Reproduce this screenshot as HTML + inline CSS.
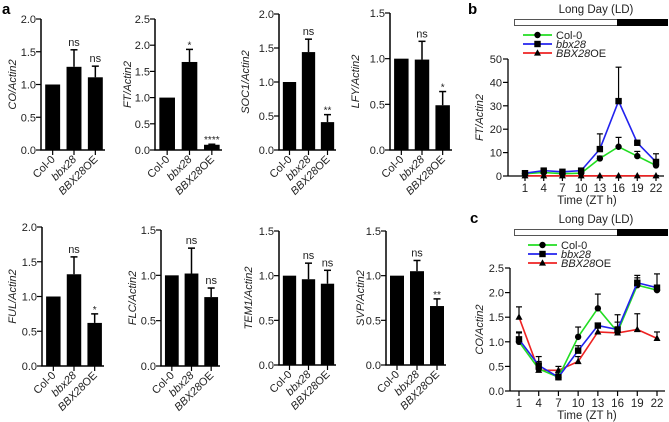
<!DOCTYPE html>
<html><head><meta charset="utf-8">
<style>
html,body{margin:0;padding:0;background:#fff;}
svg{display:block;font-family:"Liberation Sans",Arial,sans-serif;}
</style></head>
<body>
<svg id="fig" width="669" height="422" viewBox="0 0 669 422" xmlns="http://www.w3.org/2000/svg">
<text x="2" y="14" font-size="15" font-weight="bold">a</text>
<text x="468" y="14" font-size="15" font-weight="bold">b</text>
<text x="470" y="223" font-size="15" font-weight="bold">c</text>
</svg>
<script>
// ---- bar chart data ----
const barCategories = ["Col-0", "bbx28", "BBX28OE"];
const barGenes = ["CO", "FT", "SOC1", "LFY", "FUL", "FLC", "TEM1", "SVP"];
const coValues = [1, 1.27, 1.11];
const coErr = [0, 1.53, 1.28];
const ftValues = [1, 1.68, 0.1];
const ftErr = [0, 1.92, 0.11];
const soc1Values = [1, 1.44, 0.41];
const soc1Err = [0, 1.63, 0.52];
const lfyValues = [1, 0.99, 0.49];
const lfyErr = [0, 1.19, 0.64];
const fulValues = [1, 1.32, 0.62];
const fulErr = [0, 1.57, 0.75];
const flcValues = [1, 1.02, 0.76];
const flcErr = [0, 1.30, 0.86];
const tem1Values = [1, 0.96, 0.91];
const tem1Err = [0, 1.14, 1.06];
const svpValues = [1, 1.05, 0.66];
const svpErr = [0, 1.17, 0.74];
const coSig = ["", "ns", "ns"];
const ftSig = ["", "*", "****"];
const soc1Sig = ["", "ns", "**"];
const lfySig = ["", "ns", "*"];
const fulSig = ["", "ns", "*"];
const flcSig = ["", "ns", "ns"];
const tem1Sig = ["", "ns", "ns"];
const svpSig = ["", "ns", "**"];
const ticks20 = [0, 0.5, 1.0, 1.5, 2.0];
const ticks25 = [0, 0.5, 1.0, 1.5, 2.0, 2.5];
const ticks15 = [0, 0.5, 1.0, 1.5];

// ---- line chart data ----
const timePoints = [1, 4, 7, 10, 13, 16, 19, 22];
const seriesNames = ["Col-0", "bbx28", "BBX28OE"];
const ftCol = [1.0, 1.5, 1.0, 1.2, 7.5, 12.5, 8.5, 4.5];
const ftColErr = [1.2, 1.8, 1.3, 1.5, 8.5, 16.5, 10.5, 5.0];
const ftBbx = [1.2, 2.3, 1.8, 2.3, 11.5, 32, 14.2, 6];
const ftBbxErr = [1.5, 2.6, 2.1, 2.8, 18, 46.5, 14.6, 9.5];
const ftOE = [0.1, 0.1, 0.1, 0.1, 0.1, 0.1, 0.1, 0.1];
const ftOEErr = [0.2, 0.2, 0.2, 0.2, 0.2, 0.2, 0.2, 0.2];
const coCol = [1.0, 0.45, 0.28, 1.1, 1.68, 1.2, 2.15, 2.05];
const coColErr = [1.18, 0.6, 0.35, 1.3, 1.97, 1.4, 2.3, 2.15];
const coBbx = [1.05, 0.52, 0.28, 0.82, 1.33, 1.25, 2.2, 2.1];
const coBbxErr = [1.2, 0.7, 0.38, 0.92, 1.38, 1.55, 2.35, 2.38];
const coOE = [1.5, 0.42, 0.42, 0.6, 1.2, 1.18, 1.25, 1.07];
const coOEErr = [1.71, 0.55, 0.5, 0.7, 1.3, 1.3, 1.57, 1.2];
const ftLineTicks = [0, 10, 20, 30, 40, 50];
const coLineTicks = [0, 0.5, 1.0, 1.5, 2.0, 2.5];

const NS = "http://www.w3.org/2000/svg";
const svg = document.getElementById("fig");
function mk(tag, attrs, parent) {
  const e = document.createElementNS(NS, tag);
  for (const k in attrs) e.setAttribute(k, attrs[k]);
  (parent || svg).appendChild(e);
  return e;
}

function barChart(gene, values, errs, sigs, ticks, g) {
  const grp = mk("g", {});
  
  
  const maxV = ticks[ticks.length - 1];
  const y = v => g.base - (v / maxV) * (g.base - g.top);
  const band = (g.x1 - g.x0) / barCategories.length;
  const bw = band * 0.7;
  const xc = i => g.x0 + band * (i + 0.5) + 1;
  const ya = mk("line", {x1: g.x0, y1: g.top, x2: g.x0, y2: g.base + 0.5, stroke: "#000", "stroke-width": 1.5}, grp);
  
  
  const xa = mk("line", {x1: g.x0 - 0.7, y1: g.base, x2: g.x1, y2: g.base, stroke: "#000", "stroke-width": 1.5}, grp);
  
  
  ticks.forEach(t => {
    mk("line", {x1: g.x0 - 5, y1: y(t), x2: g.x0, y2: y(t), stroke: "#000", "stroke-width": 1.2}, grp);
    const tl = mk("text", {x: g.x0 - 5, y: y(t) + 4, "font-size": 11, "text-anchor": "end", fill: "#222"}, grp);
    tl.textContent = t.toFixed(1);
    
    
  });
  values.forEach((v, i) => {
    const cx = xc(i);
    const r = mk("rect", {x: cx - bw / 2, y: y(v), width: bw, height: g.base - y(v), fill: "#000"}, grp);
    
    
    if (errs[i] > v) {
      mk("line", {x1: cx, y1: y(errs[i]), x2: cx, y2: y(v), stroke: "#000", "stroke-width": 1.5}, grp);
      mk("line", {x1: cx - 3.5, y1: y(errs[i]), x2: cx + 3.5, y2: y(errs[i]), stroke: "#000", "stroke-width": 1.5}, grp);
    }
    if (sigs[i]) {
      const top = Math.max(errs[i], v);
      const st = mk("text", {x: cx, y: y(top) - (sigs[i] === "ns" ? 4 : 1), "font-size": sigs[i] === "ns" ? 11 : 10, "text-anchor": "middle", fill: "#222"}, grp);
      st.textContent = sigs[i];
      
      
    }
    mk("line", {x1: cx, y1: g.base, x2: cx, y2: g.base + 5, stroke: "#000", "stroke-width": 1.2}, grp);
    const lx = cx + 3, ly = g.base + 10;
    const cl = mk("text", {x: lx, y: ly, "font-size": 11, "text-anchor": "end", fill: "#222", transform: `rotate(-45 ${lx} ${ly})`}, grp);
    
    
    if (i === 1) { cl.setAttribute("font-style", "italic"); cl.textContent = barCategories[i]; }
    else if (i === 2) {
      const a = mk("tspan", {"font-style": "italic"}, cl); a.textContent = "BBX28";
      const b = mk("tspan", {}, cl); b.textContent = "OE";
    } else cl.textContent = barCategories[i];
  });
  const mid = (g.top + g.base) / 2;
  const yl = mk("text", {x: g.lx, y: mid, "font-size": 11, "font-style": "italic", "text-anchor": "middle", fill: "#222", transform: `rotate(-90 ${g.lx} ${mid})`}, grp);
  yl.textContent = gene + "/Actin2";
  
  
}

barChart(barGenes[0], coValues, coErr, coSig, ticks20, {x0: 41, x1: 105, top: 19, base: 150, lx: 16});
barChart(barGenes[1], ftValues, ftErr, ftSig, ticks25, {x0: 155, x1: 222, top: 19, base: 150, lx: 131});
barChart(barGenes[2], soc1Values, soc1Err, soc1Sig, ticks20, {x0: 279, x1: 336, top: 14, base: 150, lx: 249});
barChart(barGenes[3], lfyValues, lfyErr, lfySig, ticks15, {x0: 390, x1: 452, top: 13, base: 150, lx: 359});
barChart(barGenes[4], fulValues, fulErr, fulSig, ticks20, {x0: 42, x1: 104, top: 227, base: 366, lx: 16});
barChart(barGenes[5], flcValues, flcErr, flcSig, ticks15, {x0: 161, x1: 220, top: 230, base: 366, lx: 136});
barChart(barGenes[6], tem1Values, tem1Err, tem1Sig, ticks15, {x0: 279, x1: 336, top: 231, base: 365, lx: 252});
barChart(barGenes[7], svpValues, svpErr, svpSig, ticks15, {x0: 386, x1: 446, top: 231, base: 365, lx: 364});

const colors = ["#22dd22", "#2222ee", "#ee2222"];
function marker(type, cx, cy, grp) {
  let m;
  if (type === 0) m = mk("circle", {cx: cx, cy: cy, r: 3.2, fill: "#000"}, grp);
  else if (type === 1) m = mk("rect", {x: cx - 3.2, y: cy - 3.2, width: 6.4, height: 6.4, fill: "#000"}, grp);
  else m = mk("polygon", {points: `${cx},${cy - 3.8} ${cx - 3.5},${cy + 2.6} ${cx + 3.5},${cy + 2.6}`, fill: "#000"}, grp);
  
  
}

function lineChart(name, yTitle, series, errs, ticks, g, decimals) {
  const grp = mk("g", {});
  
  
  const maxV = ticks[ticks.length - 1];
  const y = v => g.base - (v / maxV) * (g.base - g.top);
  const x = t => g.xa + (t - 1) / 21 * (g.xb - g.xa);
  const t1 = mk("text", {x: 596, y: g.barY - 6, "font-size": 11.5, "text-anchor": "middle", fill: "#222"}, grp);
  t1.textContent = "Long Day (LD)";
  
  
  const lb = mk("rect", {x: 514.5, y: g.barY + 0.5, width: 103, height: 6, fill: "#fff", stroke: "#555", "stroke-width": 1}, grp);
  
  
  const db = mk("rect", {x: 617, y: g.barY, width: 51, height: 7, fill: "#000"}, grp);
  
  
  seriesNames.forEach((s, i) => {
    const ly = g.legY + i * 9;
    const le = mk("g", {}, grp);
    
    
    mk("line", {x1: g.legX, y1: ly, x2: g.legX + 29, y2: ly, stroke: colors[i], "stroke-width": 1.8}, le);
    marker(i, g.legX + 14.5, ly, le);
    const tx = mk("text", {x: g.legX + 33, y: ly + 4, "font-size": 11, fill: "#222"}, le);
    if (i === 0) tx.textContent = s;
    else if (i === 1) { tx.setAttribute("font-style", "italic"); tx.textContent = s; }
    else { const a = mk("tspan", {"font-style": "italic"}, tx); a.textContent = "BBX28"; const b = mk("tspan", {}, tx); b.textContent = "OE"; }
  });
  mk("line", {x1: g.x0, y1: g.top, x2: g.x0, y2: g.base + 0.5, stroke: "#000", "stroke-width": 1.3}, grp);
  mk("line", {x1: g.x0, y1: g.base, x2: g.xb + 8, y2: g.base, stroke: "#000", "stroke-width": 1.3}, grp);
  ticks.forEach(t => {
    mk("line", {x1: g.x0 - 5, y1: y(t), x2: g.x0, y2: y(t), stroke: "#000", "stroke-width": 1.2}, grp);
    const tl = mk("text", {x: g.x0 - 6, y: y(t) + 4, "font-size": 11, "text-anchor": "end", fill: "#222"}, grp);
    tl.textContent = t.toFixed(decimals);
    
    
  });
  timePoints.forEach(t => {
    mk("line", {x1: x(t), y1: g.base, x2: x(t), y2: g.base + 5, stroke: "#000", "stroke-width": 1.2}, grp);
    const tl = mk("text", {x: x(t), y: g.base + 16, "font-size": 11.5, "text-anchor": "middle", fill: "#222"}, grp);
    tl.textContent = t;
    
    
  });
  const xt = mk("text", {x: 587, y: g.base + 28, "font-size": 11.5, "text-anchor": "middle", fill: "#222"}, grp);
  xt.textContent = "Time (ZT h)";
  
  
  const mid = (g.top + g.base) / 2;
  const yl = mk("text", {x: g.lx, y: mid, "font-size": 11, "font-style": "italic", "text-anchor": "middle", fill: "#222", transform: `rotate(-90 ${g.lx} ${mid})`}, grp);
  yl.textContent = yTitle;
  
  
  [2, 0, 1].forEach(si => {
    const vals = series[si], er = errs[si];
    vals.forEach((v, i) => {
      if (er[i] > v) {
        mk("line", {x1: x(timePoints[i]), y1: y(er[i]), x2: x(timePoints[i]), y2: y(v), stroke: "#000", "stroke-width": 1.2}, grp);
        mk("line", {x1: x(timePoints[i]) - 3, y1: y(er[i]), x2: x(timePoints[i]) + 3, y2: y(er[i]), stroke: "#000", "stroke-width": 1.2}, grp);
      }
    });
  });
  [2, 0, 1].forEach(si => {
    const vals = series[si];
    const pl = mk("polyline", {points: vals.map((v, i) => x(timePoints[i]) + "," + y(v)).join(" "), fill: "none", stroke: colors[si], "stroke-width": 1.6}, grp);
    
    
    vals.forEach((v, i) => marker(si, x(timePoints[i]), y(v), grp));
  });
}

lineChart("ft-time-course-chart", "FT/Actin2", [ftCol, ftBbx, ftOE], [ftColErr, ftBbxErr, ftOEErr], ftLineTicks,
  {x0: 508, xa: 525, xb: 656, top: 59, base: 176, lx: 483, barY: 19, legX: 523, legY: 35}, 0);
lineChart("co-time-course-chart", "CO/Actin2", [coCol, coBbx, coOE], [coColErr, coBbxErr, coOEErr], coLineTicks,
  {x0: 510, xa: 519, xb: 657, top: 268, base: 391, lx: 483, barY: 229, legX: 528, legY: 245}, 1);
</script>
</body></html>
